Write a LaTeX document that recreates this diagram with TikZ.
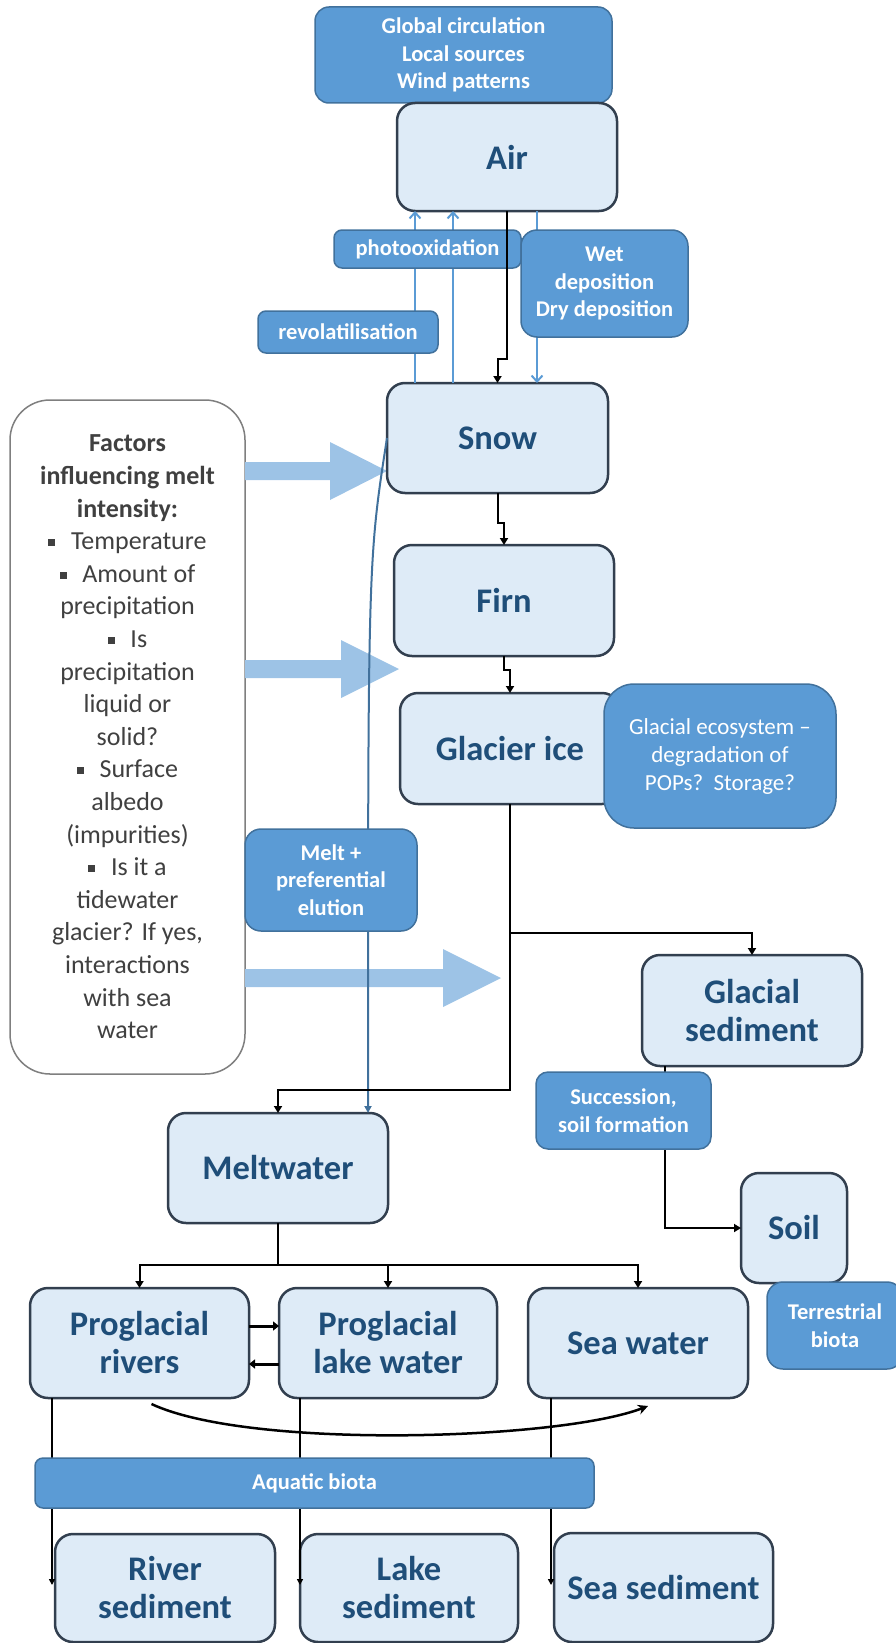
\documentclass[tikz,border=0pt]{standalone}
\usepackage{fontspec}
\setmainfont{Carlito}
\usetikzlibrary{calc,arrows.meta}
\definecolor{lightfill}{HTML}{DEEBF7}
\definecolor{boxborder}{HTML}{323F4F}
\definecolor{maintext}{HTML}{1F4E79}
\definecolor{midblue}{HTML}{5B9BD5}
\definecolor{midborder}{HTML}{41719C}
\definecolor{fatblue}{HTML}{9DC3E6}
\definecolor{darkline}{HTML}{41719C}
\definecolor{greytext}{HTML}{404040}
\definecolor{greyborder}{HTML}{7F7F7F}
\newcommand{\sqbullet}{\raisebox{0.14em}{\rule{0.27em}{0.27em}}}
\begin{document}
\begin{tikzpicture}[x=1pt,y=-1pt,
  mainbox/.style={draw=boxborder, line width=2.5pt, fill=lightfill, rounded corners=18pt,
    text=maintext, font=\fontsize{34.5}{38}\selectfont\bfseries, align=center,
    inner sep=0pt, outer sep=0pt, minimum width=220pt, minimum height=110pt},
  labelbox/.style={draw=midborder, line width=1.5pt, fill=midblue, rounded corners=10pt,
    text=white, font=\fontsize{22.5}{27.5}\selectfont\bfseries, align=center,
    inner sep=0pt, outer sep=0pt},
  factbox/.style={draw=greyborder, line width=1.5pt, fill=white, rounded corners=40pt,
    text=greytext, font=\fontsize{26}{32.6}\selectfont, align=center,
    inner sep=0pt, outer sep=0pt},
  conn/.style={draw=black, line width=2pt, -{Triangle[length=7pt,width=8pt]}},
  plainline/.style={draw=black, line width=2pt},
  widearr/.style={draw=black, line width=3pt, -{Triangle[length=6pt,width=9pt]}},
  thinarr/.style={draw=black, line width=1.6pt, -{Triangle[length=6pt,width=6pt]}},
  curvearr/.style={draw=black, line width=2.5pt, -{Stealth[length=10pt,width=10pt]}},
  bluearrow/.style={draw=midblue, line width=2pt, -{Straight Barb[length=6pt,width=11pt]}},
  meltline/.style={draw=darkline, line width=2pt, -{Triangle[length=7pt,width=7pt]}}
]
\useasboundingbox (0,0) rectangle (895,1643);

% factors box
\node[factbox, minimum width=235pt, minimum height=674pt] (factors) at (127.5,737)
 {\textbf{Factors}\\ \textbf{influencing melt}\\ \textbf{intensity:}\\
  \sqbullet\hspace{0.6em}Temperature\\
  \sqbullet\hspace{0.6em}Amount of\\
  precipitation\\
  \sqbullet\hspace{0.6em}Is\\
  precipitation\\
  liquid or\\
  solid?\\
  \sqbullet\hspace{0.6em}Surface\\
  albedo\\
  (impurities)\\
  \sqbullet\hspace{0.6em}Is it a\\
  tidewater\\
  glacier? If yes,\\
  interactions\\
  with sea\\
  water};

% fat arrows
\fill[fatblue] (245,462) -- (330,462) -- (330,442) -- (387,471) -- (330,500) -- (330,480) -- (245,480) -- cycle;
\fill[fatblue] (245,660) -- (341,660) -- (341,640) -- (399,669) -- (341,698) -- (341,678) -- (245,678) -- cycle;
\fill[fatblue] (245,969) -- (443,969) -- (443,949) -- (501,978) -- (443,1007) -- (443,987) -- (245,987) -- cycle;

% top boxes
\node[labelbox, minimum width=297pt, minimum height=96pt, rounded corners=14pt] (glob) at (463.5,55)
 {Global circulation\\Local sources\\Wind patterns};
\node[mainbox, minimum height=108pt] (air) at (507,157) {Air};
\node[mainbox, minimum width=221pt] (snow) at (497.5,438) {Snow};
\node[mainbox, minimum height=111pt] (firn) at (504,600.5) {Firn};
\node[mainbox, minimum height=111pt] (glacier) at (510,748.5) {Glacier ice};
\node[labelbox, minimum width=232pt, minimum height=144pt, rounded corners=30pt,
  font=\fontsize{23}{28}\selectfont] (eco) at (720,756)
 {Glacial ecosystem --\\degradation of\\POPs?\ \ Storage?};
\node[mainbox, minimum height=111pt] (gsed) at (752,1010.5) {Glacial\\sediment};
\node[mainbox] (meltwater) at (278,1168) {Meltwater};
\node[mainbox, minimum width=106pt] (soil) at (794,1228) {Soil};
\node[labelbox, minimum width=136pt, minimum height=87pt, rounded corners=16pt] (terr) at (835,1325.5)
 {Terrestrial\\biota};
\node[mainbox, minimum width=219pt] (rivers) at (139.5,1343) {Proglacial\\rivers};
\node[mainbox, minimum width=218pt] (lake) at (388,1343) {Proglacial\\lake water};
\node[mainbox] (sea) at (638,1343) {Sea water};
\node[mainbox, minimum height=108pt] (rsed) at (165,1588) {River\\sediment};
\node[mainbox, minimum width=218pt, minimum height=108pt] (lsed) at (409,1588) {Lake\\sediment};
\node[mainbox, minimum width=219pt, minimum height=109pt] (ssed) at (663.5,1587.5) {Sea sediment};

% blue exchange arrows between air and snow
\coordinate (u1) at ($(snow.north west)+(28,0)$);
\coordinate (u2) at ($(snow.north west)+(66,0)$);
\coordinate (d1) at ($(air.south east)+(-80,0)$);
\draw[bluearrow] (u1) -- (u1 |- air.south);
\draw[bluearrow] (u2) -- (u2 |- air.south);
\draw[bluearrow] (d1) -- (d1 |- snow.north);

% melt + preferential elution line
\coordinate (mtip) at ($(meltwater.north)+(90,0)$);
\draw[meltline] (snow.west) .. controls (368,560) .. (mtip);

% black connectors
\draw[conn] (snow.south) -- ++(0,30) -| (firn.north);
\draw[conn] (firn.south) -- ++(0,14) -| (glacier.north);
\draw[conn] (glacier.south) -- ++(0,129) -| (gsed.north);
\draw[conn] (glacier.south) -- ++(0,286) -| (meltwater.north);
\coordinate (gs) at ($(gsed.south west)+(23,0)$);
\draw[conn] (gs) |- (soil.west);
\coordinate (mj) at ($(meltwater.south)+(0,42)$);
\draw[plainline] (meltwater.south) -- (mj);
\draw[conn] (mj) -| (rivers.north);
\draw[conn] (mj) -| (lake.north);
\draw[conn] (mj) -| (sea.north);
\draw[widearr] ($(rivers.north east)+(0,38)$) -- ($(lake.north west)+(0,38)$);
\draw[widearr] ($(lake.north west)+(0,76)$) -- ($(rivers.north east)+(0,76)$);
\draw[curvearr] ($(rivers.south)+(12,6)$) .. controls (250,1450) and (560,1440) .. ($(sea.south)+(10,8)$);
\draw[thinarr] ($(rivers.south west)+(22,0)$) -- ++(0,187);
\draw[thinarr] ($(lake.south west)+(21,0)$) -- ++(0,187);
\draw[thinarr] ($(sea.south west)+(23,0)$) -- ++(0,187);

% label boxes on top
\node[labelbox, minimum width=187pt, minimum height=38pt, rounded corners=8pt] (photo) at (427.5,249) {photooxidation};
\node[labelbox, minimum width=180pt, minimum height=42pt, rounded corners=8pt] (revol) at (348,332) {revolatilisation};
\node[labelbox, minimum width=167pt, minimum height=107pt, rounded corners=16pt] (wet) at (604.5,283.5)
 {Wet\\deposition\\Dry deposition};
\node[labelbox, minimum width=172pt, minimum height=102pt, rounded corners=16pt] (meltlab) at (331,880)
 {Melt +\\preferential\\elution};
\node[labelbox, minimum width=175pt, minimum height=77pt, rounded corners=12pt] (succ) at (623.5,1110.5)
 {Succession,\\soil formation};
\node[labelbox, minimum width=559pt, minimum height=50pt, rounded corners=8pt] (aqua) at (314.5,1483) {Aquatic biota};

% air to snow (drawn over photooxidation)
\draw[conn] (air.south) -- ++(0,148) -| (snow.north);
\end{tikzpicture}
\end{document}
